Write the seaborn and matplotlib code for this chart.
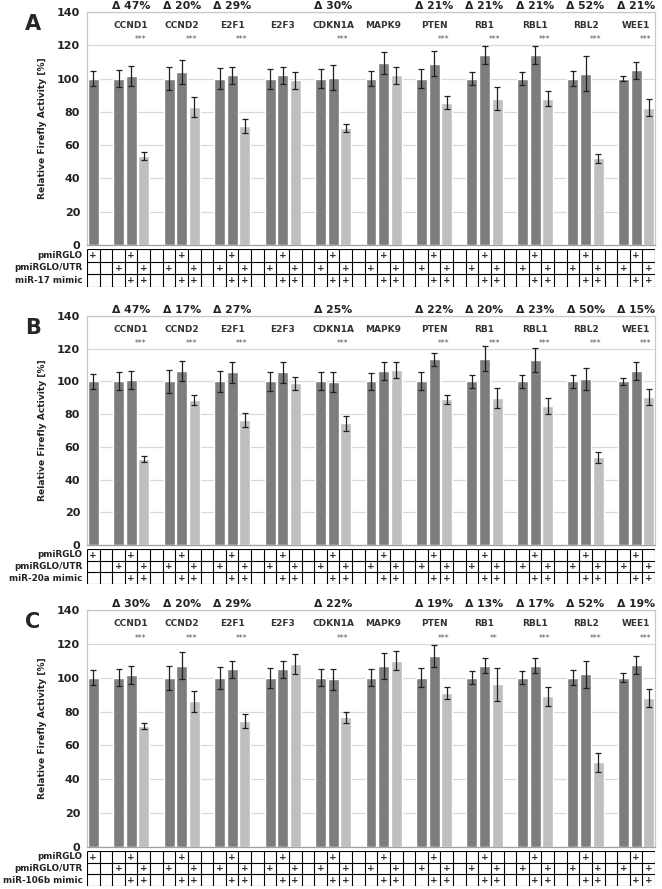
import seaborn as sns
import matplotlib.pyplot as plt
import pandas as pd

sns.set_style("white")
plt.rcParams["font.family"] = ["DejaVu Sans"]

GENES = ["CCND1", "CCND2", "E2F1", "E2F3", "CDKN1A", "MAPK9",
         "PTEN", "RB1", "RBL1", "RBL2", "WEE1"]
PANELS = ["A", "B", "C"]
MIMICS = ["miR-17 mimic", "miR-20a mimic", "miR-106b mimic"]
ROWS = ["pmiRGLO", "pmiRGLO/UTR"]

# control bar (pmiRGLO alone): mean, sd
CTRL_A = (100, 4.5)
CTRL_B = (100, 4.5)
CTRL_C = (100, 4.5)

# per gene: (pmiRGLO/UTR, pmiRGLO + mimic, pmiRGLO/UTR + mimic)
MEAN_A = [(100, 101.5, 53.5), (100, 104, 83), (100, 102, 71.5), (100, 102, 99),
          (100, 100.5, 70.5), (100, 109.5, 102), (100, 109, 85.5), (100, 114, 88),
          (100, 114, 88), (100, 103, 52), (100, 105, 82.5)]
ERR_A = [(5, 6, 2.5), (7, 7, 6), (6.5, 5, 4), (6, 5, 5), (5.5, 7.5, 2.5),
         (4.5, 6.5, 5), (5.5, 7.5, 4), (4, 5.5, 7), (4, 5.5, 4.5),
         (4.5, 10.5, 2.5), (1.5, 5, 5)]
DELTA_A = ["47%", "20%", "29%", "", "30%", "", "21%", "21%", "21%", "52%", "21%"]
STARS_A = ["***", "***", "***", "", "***", "", "***", "***", "***", "***", "***"]

MEAN_B = [(100, 101, 52.5), (100, 106.5, 88.5), (100, 105.5, 76.5), (100, 105.5, 99),
          (100, 99.5, 74.5), (100, 106.5, 107), (100, 113.5, 89), (100, 114, 90),
          (100, 113, 85), (100, 101.5, 53.5), (100, 106.5, 90.5)]
ERR_B = [(5.5, 5.5, 2), (7, 6, 3), (6.5, 6.5, 4.5), (6, 6.5, 4), (5.5, 6, 4.5),
         (5, 5.5, 5), (5.5, 4, 2.5), (4, 7.5, 6), (4, 7.5, 5), (4, 7, 3.5),
         (2, 5.5, 5)]
DELTA_B = ["47%", "17%", "27%", "", "25%", "", "22%", "20%", "23%", "50%", "15%"]
STARS_B = ["***", "***", "***", "", "***", "", "***", "***", "***", "***", "***"]

MEAN_C = [(100, 101.5, 71.5), (100, 107, 86), (100, 105, 74.5), (100, 105, 108),
          (100, 99, 76.5), (100, 107, 110), (100, 113, 91), (100, 107, 96),
          (100, 107, 89), (100, 102, 50), (100, 107.5, 88)]
ERR_C = [(5, 5.5, 2), (7, 8, 6), (6.5, 5, 4), (6, 5, 6), (5, 6, 3.5),
         (5, 7.5, 5.5), (5.5, 6.5, 3.5), (4, 4.5, 9.5), (4, 4.5, 5.5),
         (4.5, 8, 5.5), (2.5, 5.5, 5.5)]
DELTA_C = ["30%", "20%", "29%", "", "22%", "", "19%", "13%", "17%", "52%", "19%"]
STARS_C = ["***", "***", "***", "", "***", "", "***", "**", "***", "***", "***"]

# table flags (pmiRGLO, pmiRGLO/UTR, mimic)
CTRL_FLAGS = (1, 0, 0)
GROUP_FLAGS = [(0, 1, 0), (1, 0, 1), (0, 1, 1)]

DARK = "#7d7d7d"
LIGHT = "#bfbfbf"
N_SLOTS = 2 + 4 * len(GENES) - 1


def build_df(ctrl, means, errs):
    rows = [{"slot": 0, "value": ctrl[0], "err": ctrl[1], "shade": "dark",
             "flags": CTRL_FLAGS}]
    for g, (m, e) in enumerate(zip(means, errs)):
        for k in range(3):
            rows.append({"slot": 2 + 4 * g + k, "value": m[k], "err": e[k],
                         "shade": "light" if k == 2 else "dark",
                         "flags": GROUP_FLAGS[k]})
    df = pd.DataFrame(rows)
    df["slot_lbl"] = df["slot"].astype(str)
    return df


def plot_panel(ax, tab, df, deltas, stars, mimic, letter):
    order = [str(i) for i in range(N_SLOTS)]
    ax.yaxis.grid(True, color="#d9d9d9", lw=0.9)
    ax.set_axisbelow(True)
    sns.barplot(data=df, x="slot_lbl", y="value", hue="shade", order=order,
                palette={"dark": DARK, "light": LIGHT}, dodge=False,
                width=0.87, errorbar=None, legend=False, saturation=1, ax=ax)
    ax.errorbar(df["slot"], df["value"], yerr=df["err"], fmt="none",
                ecolor="#202020", elinewidth=0.9, capsize=2.5, capthick=0.9)
    ax.set_xlim(-0.5, N_SLOTS - 0.5)
    ax.set_ylim(0, 140)
    ax.set_yticks(range(0, 141, 20))
    ax.set_xticks([])
    ax.set_xlabel("")
    ax.set_ylabel("Relative Firefly Activity [%]", fontsize=6.6,
                  fontweight="bold", color="#222222", labelpad=7)
    ax.tick_params(axis="y", length=0, pad=5, labelsize=8, colors="#222222")
    for lbl in ax.get_yticklabels():
        lbl.set_fontweight("bold")
    for s in ax.spines.values():
        s.set_color("#c8c8c8")
        s.set_linewidth(0.9)
    ax.spines["bottom"].set_color("#a0a0a0")

    for g, gene in enumerate(GENES):
        mid = 2 + 4 * g + 1
        ax.text(mid, 131.8, gene, ha="center", va="center", fontsize=6.5,
                fontweight="bold", color="#333333")
        if stars[g]:
            ax.text(mid + 0.75, 123.3, stars[g], ha="center", va="center",
                    fontsize=5.5, color="#555555")
        if deltas[g]:
            ax.text(mid, 143.8, "Δ " + deltas[g], ha="center", va="center",
                    fontsize=7.8, fontweight="bold", color="#222222",
                    clip_on=False)

    ax.figure.text(25 / 662, ax.get_position().y1 - 12 / 889, letter,
                   fontsize=15, fontweight="bold", ha="left", va="center")

    # condition table
    tab.set_xlim(-0.5, N_SLOTS - 0.5)
    tab.set_ylim(3, 0)
    tab.axis("off")
    for k in range(N_SLOTS + 1):
        tab.plot([k - 0.5, k - 0.5], [0, 3], color="black", lw=0.8,
                 solid_capstyle="butt")
    for r in range(4):
        tab.plot([-0.5, N_SLOTS - 0.5], [r, r], color="black", lw=0.8,
                 solid_capstyle="butt")
    for r, name in enumerate(ROWS + [mimic]):
        tab.text(-0.85, r + 0.5, name, ha="right", va="center", fontsize=6.3,
                 fontweight="bold", color="#222222")
    for slot, flags in zip(df["slot"], df["flags"]):
        for r, f in enumerate(flags):
            if f:
                tab.text(slot, r + 0.52, "+", ha="center", va="center",
                         fontsize=6.5, fontweight="bold")


fig = plt.figure(figsize=(6.62, 8.89), dpi=100)
W, H = 662, 889
LEFT, RIGHT = 87, 655
layout = [(12, 245, 249, 287), (316, 545, 549, 584), (610, 847, 851, 886)]
data = [(CTRL_A, MEAN_A, ERR_A, DELTA_A, STARS_A),
        (CTRL_B, MEAN_B, ERR_B, DELTA_B, STARS_B),
        (CTRL_C, MEAN_C, ERR_C, DELTA_C, STARS_C)]

for (top, bot, ttop, tbot), (ctrl, means, errs, deltas, stars), mimic, letter in zip(
        layout, data, MIMICS, PANELS):
    ax = fig.add_axes([LEFT / W, 1 - bot / H, (RIGHT - LEFT) / W, (bot - top) / H])
    tab = fig.add_axes([LEFT / W, 1 - tbot / H, (RIGHT - LEFT) / W, (tbot - ttop) / H])
    df = build_df(ctrl, means, errs)
    plot_panel(ax, tab, df, deltas, stars, mimic, letter)

fig.savefig("out.png", dpi=100)
